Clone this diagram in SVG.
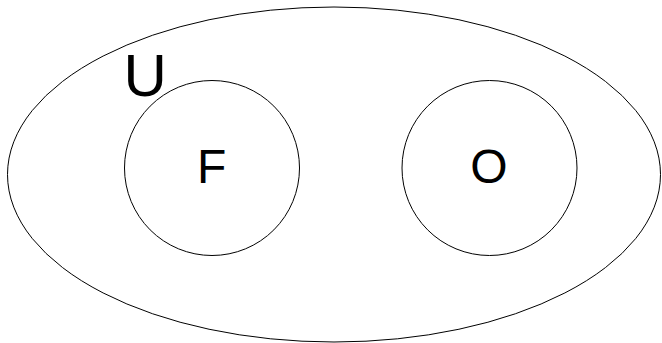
<svg xmlns="http://www.w3.org/2000/svg" width="662" height="343" viewBox="0 0 662 343">
<style>
.s{fill:none;stroke:#000;stroke-width:1}
.t{font-family:"Liberation Sans",Arial,sans-serif;fill:#000}
</style>
<rect width="662" height="343" fill="#fff"/>
<g id="U">
<ellipse class="s" cx="334" cy="174.5" rx="326.5" ry="167.5"/>
<text class="t" x="123.5" y="96" font-size="60">U</text>
</g>
<g id="F">
<circle class="s" cx="212" cy="168" r="87.5"/>
<text class="t" x="197" y="182.5" font-size="48">F</text>
</g>
<g id="O">
<circle class="s" cx="489.5" cy="168" r="87.5"/>
<text class="t" x="489" y="182.5" font-size="48" text-anchor="middle">O</text>
</g>
<g id="connectors"/>
</svg>
